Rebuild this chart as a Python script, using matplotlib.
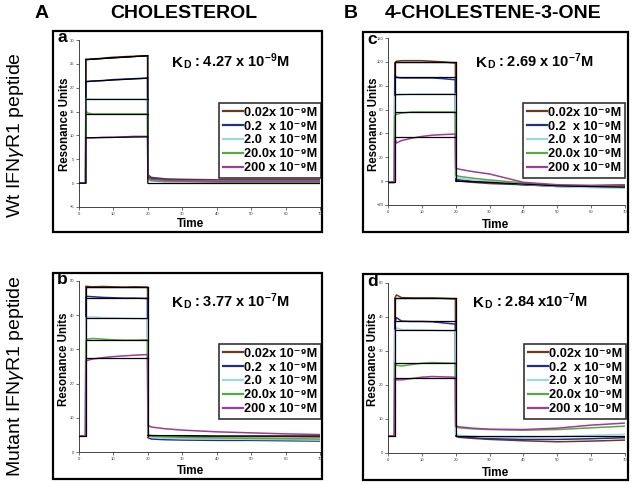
import matplotlib
matplotlib.use("Agg")
import matplotlib.pyplot as plt
from matplotlib.patches import Rectangle
from matplotlib.lines import Line2D

plt.rcParams['font.family'] = ['Liberation Sans', 'DejaVu Sans']
plt.rcParams['mathtext.fontset'] = 'custom'
plt.rcParams['mathtext.rm'] = 'Liberation Sans'
plt.rcParams['mathtext.bf'] = 'Liberation Sans:bold'
plt.rcParams['mathtext.it'] = 'Liberation Sans:italic'
plt.rcParams['mathtext.default'] = 'bf'

W, H = 633, 484

# ---------------- data ----------------
conc_labels = ["0.02x 10\u207b\u2079M", "0.2  x 10\u207b\u2079M", "2.0  x 10\u207b\u2079M",
               "20.0x 10\u207b\u2079M", "200 x 10\u207b\u2079M"]
series_colors = ["#6b3a1e", "#1f2f8a", "#9fd6e6", "#5aa845", "#9c3d96"]

t = [0, 1.9, 2.0, 2.5, 4, 7, 10, 13, 16, 19.9, 20.0, 21, 25, 30, 40, 50, 60, 70]
t_off = [20, 30, 40, 50, 60, 70]

# Panel a : cholesterol, Wt peptide
a_brown = [0, 0, 26.0, 25.9, 26.0, 26.2, 26.4, 26.5, 26.6, 26.7, 1.8, 1.2, 0.9, 0.8, 0.7, 0.7, 0.7, 0.7]
a_blue = [0, 0, 21.2, 21.3, 21.4, 21.5, 21.7, 21.8, 21.9, 22.0, 1.4, 1.0, 0.7, 0.6, 0.5, 0.5, 0.5, 0.5]
a_cyan = [0, 0, 17.8, 17.7, 17.6, 17.6, 17.6, 17.6, 17.6, 17.6, 1.0, 0.6, 0.5, 0.4, 0.4, 0.4, 0.4, 0.4]
a_green = [0, 0, 15.2, 14.7, 14.5, 14.5, 14.5, 14.5, 14.5, 14.5, 0.8, 0.5, 0.3, 0.3, 0.2, 0.2, 0.2, 0.2]
a_purple = [0, 0, 9.6, 9.5, 9.5, 9.6, 9.6, 9.7, 9.8, 9.8, 1.2, 0.8, 0.6, 0.5, 0.4, 0.4, 0.4, 0.4]
a_fit_start = [25.9, 21.3, 17.6, 14.5, 9.5]
a_fit_end = [26.7, 22.0, 17.6, 14.5, 9.7]
a_fit_off = [0, 0, 0, 0, 0, 0]
a_base = 0

# Panel c : 4-cholestene-3-one, Wt peptide
c_brown = [-1, -1, 99, 100.5, 101, 101, 101, 100.5, 100, 99, 0.5, 0, -1, -2, -3, -4, -4, -3.5]
c_blue = [-1, -1, 89, 87, 86.5, 86.5, 86.5, 86.5, 86, 85, 1.5, 1, 0, -1, -3, -4.5, -5, -5]
c_cyan = [-1, -1, 71, 72, 72.5, 73, 73, 73, 73, 73, 3, 2.5, 1, 0, -2.5, -4.5, -5.5, -6]
c_green = [-1, -1, 55, 56, 57, 58, 58, 58, 58, 58, 5, 4, 2.5, 1, -1.5, -3.5, -4.5, -4.5]
c_purple = [-1, -1, 36, 32, 34, 36, 37.5, 38.5, 39, 39.5, 11, 10, 8, 6, -1, -3, -3.5, -3]
c_fit_start = [100, 87, 73, 58, 37]
c_fit_end = [100, 87, 73, 58, 37]
c_fit_off = [0, -1, -2.5, -4, -4.5, -5]
c_base = -1

# Panel b : cholesterol, mutant peptide
b_brown = [4.7, 4.7, 48.5, 48.4, 48.3, 48.4, 48.3, 48.2, 48.3, 48.2, 5, 4.8, 4.7, 4.6, 4.5, 4.5, 4.5, 4.4]
b_blue = [4.7, 4.7, 45.3, 45.5, 45.4, 45.2, 45.1, 45.0, 45.0, 44.9, 4.2, 3.8, 3.6, 3.5, 3.4, 3.4, 3.3, 3.2]
b_cyan = [4.7, 4.7, 39.3, 39.4, 39.5, 39.3, 39.2, 39.1, 39.0, 38.9, 4.6, 4.3, 4.0, 3.9, 3.8, 3.7, 3.6, 3.5]
b_green = [4.7, 4.7, 32.5, 33.0, 33.2, 33.0, 32.8, 32.7, 32.7, 32.8, 5.0, 4.6, 4.4, 4.3, 4.1, 4.0, 3.9, 3.8]
b_purple = [4.7, 4.7, 26.6, 26.8, 27.2, 27.6, 27.9, 28.1, 28.3, 28.5, 7.8, 7.3, 6.8, 6.4, 5.9, 5.6, 5.3, 5.1]
b_fit_start = [48.3, 45.1, 39.2, 32.8, 27.5]
b_fit_end = [48.3, 45.1, 39.2, 32.8, 27.5]
b_fit_off = [4.8, 4.8, 4.7, 4.7, 4.7, 4.7]
b_base = 4.7

# Panel d : 4-cholestene-3-one, mutant peptide
d_brown = [5, 5, 45.5, 46.5, 45.7, 45.6, 45.6, 45.6, 45.5, 45.3, 5, 4.6, 4.3, 4.0, 3.6, 3.3, 3.5, 3.8]
d_blue = [5, 5, 38.5, 39.8, 38.8, 38.7, 38.7, 38.6, 38.3, 37.9, 5.2, 4.8, 4.5, 4.2, 4.0, 4.0, 4.2, 4.5]
d_cyan = [5, 5, 36.0, 36.8, 36.3, 36.2, 36.2, 36.1, 36.0, 35.9, 5.5, 5.2, 4.9, 4.7, 4.6, 4.8, 5.2, 5.5]
d_green = [5, 5, 26.5, 25.8, 25.6, 26.0, 26.4, 26.6, 26.5, 26.4, 7.7, 7.4, 7.1, 6.9, 6.7, 6.9, 7.4, 7.9]
d_purple = [5, 5, 22.0, 21.5, 21.5, 21.9, 22.3, 22.5, 22.4, 22.3, 8.0, 7.7, 7.3, 7.0, 6.9, 7.3, 8.2, 8.8]
d_fit_start = [45.6, 38.7, 36.2, 26.4, 22.2]
d_fit_end = [45.6, 38.7, 36.2, 26.4, 22.2]
d_fit_off = [5, 5, 5, 5, 5, 5]
d_base = 5

kd_values = ["4.27 x 10$^{-9}$M", "3.77 x 10$^{-7}$M", "2.69 x 10$^{-7}$M", "2.84 x10$^{-7}$M"]

x_ticks = [0, 10, 20, 30, 40, 50, 60, 70]
a_yticks = [-5, 0, 5, 10, 15, 20, 25, 30]
c_yticks = [-20, 0, 20, 40, 60, 80, 100, 120]
b_yticks = [0, 10, 20, 30, 40, 50]
d_yticks = [0, 10, 20, 30, 40, 50]

# ---------------- figure ----------------
fig = plt.figure(figsize=(W / 100, H / 100), dpi=100)


def fx(px):
    return px / W


def fy(py):
    return 1 - py / H


def make_axes(x0, x1, y0, y1):
    return fig.add_axes([fx(x0), fy(y1), fx(x1) - fx(x0), (y1 - y0) / H])


panels = [
    dict(ax=(79, 320, 40, 207), box=(53, 322, 31, 232), series=[a_brown, a_blue, a_cyan, a_green, a_purple],
         fs=a_fit_start, fe=a_fit_end, foff=a_fit_off, base=a_base, yt=a_yticks, ylim=(-5, 30),
         letter="a", kd=kd_values[0], kdpos=(172, 67), leg=(321, 103), ylab=(65, 124), time=(190, 224)),
    dict(ax=(79, 320, 281, 452), box=(53, 322, 273, 479), series=[b_brown, b_blue, b_cyan, b_green, b_purple],
         fs=b_fit_start, fe=b_fit_end, foff=b_fit_off, base=b_base, yt=b_yticks, ylim=(0, 50),
         letter="b", kd=kd_values[1], kdpos=(172, 307), leg=(321, 344), ylab=(64, 359), time=(190, 471)),
    dict(ax=(388, 625, 38, 205), box=(363, 628, 32, 232), series=[c_brown, c_blue, c_cyan, c_green, c_purple],
         fs=c_fit_start, fe=c_fit_end, foff=c_fit_off, base=c_base, yt=c_yticks, ylim=(-20, 120),
         letter="c", kd=kd_values[2], kdpos=(476, 67), leg=(625, 103), ylab=(374, 124), time=(495, 225)),
    dict(ax=(388, 625, 283, 453), box=(363, 628, 274, 480), series=[d_brown, d_blue, d_cyan, d_green, d_purple],
         fs=d_fit_start, fe=d_fit_end, foff=d_fit_off, base=d_base, yt=d_yticks, ylim=(0, 50),
         letter="d", kd=kd_values[3], kdpos=(473, 307), leg=(626, 344), ylab=(373, 359), time=(496, 473)),
]

for p in panels:
    x0, x1, y0, y1 = p["ax"]
    ax = make_axes(x0, x1, y0, y1)
    # frame
    bx0, bx1, by0, by1 = p["box"]
    fig.patches.append(Rectangle((fx(bx0), fy(by1)), fx(bx1) - fx(bx0), (by1 - by0) / H,
                                 transform=fig.transFigure, fill=False, lw=1.6, ec="black", zorder=0))
    handles = []
    for s, col, lab in zip(p["series"], series_colors, conc_labels):
        ax.plot(t, s, color=col, lw=1.1, zorder=2)
        handles.append(Line2D([], [], color=col, lw=1.6, label=lab))
    # fitted curves (black)
    ax.plot([t[0], 2, 2, 20, 20], [p["base"], p["base"], p["fs"][0], p["fe"][0], p["foff"][0]],
            color="black", lw=0.9, zorder=3)
    for s0, s1 in zip(p["fs"], p["fe"]):
        ax.plot([2, 20], [s0, s1], color="black", lw=0.9, zorder=3)
    ax.plot(t_off, p["foff"], color="black", lw=0.9, zorder=3)

    ax.set_xlim(0, 70)
    ax.set_ylim(*p["ylim"])
    ax.set_xticks(x_ticks)
    ax.set_yticks(p["yt"])
    ax.tick_params(labelsize=3, length=2, width=0.5, pad=1.5, colors="#333333")
    for side in ("top", "right"):
        ax.spines[side].set_visible(False)
    for side in ("left", "bottom"):
        ax.spines[side].set_linewidth(0.7)
        ax.spines[side].set_color("#444444")
    ax.patch.set_alpha(0)

    leg = ax.legend(handles=handles, loc="upper right", bbox_to_anchor=(fx(p["leg"][0]), fy(p["leg"][1])),
                    bbox_transform=fig.transFigure, frameon=True, fancybox=False, borderaxespad=0,
                    prop=dict(weight="bold", size=9.2), handlelength=1.6, handletextpad=0.05,
                    labelspacing=0.14, borderpad=0.3)
    leg.get_frame().set_edgecolor("black")
    leg.get_frame().set_linewidth(1.2)
    leg.set_zorder(5)

    # panel letter
    fig.text(fx(p["box"][0] + 4), fy(p["box"][2] + 7), p["letter"], fontsize=12.5, fontweight="bold",
             ha="left", va="center")
    # KD text
    kx, ky = p["kdpos"]
    tk = fig.text(fx(kx), fy(ky), "K", fontsize=11, fontweight="bold", ha="left", va="baseline")
    ann_d = fig.add_artist(plt.Annotation("D", xy=(1, 0), xycoords=tk, fontsize=7.5, fontweight="bold",
                                          ha="left", va="bottom"))
    fig.add_artist(plt.Annotation(" : " + p["kd"], xy=(1, 0), xycoords=ann_d, fontsize=10.5,
                                  fontweight="bold", ha="left", va="bottom"))
    # axis labels
    fig.text(fx(p["ylab"][0]), fy(p["ylab"][1]), "Resonance Units", rotation=90, fontsize=8.3,
             fontweight="bold", ha="center", va="center")
    fig.text(fx(p["time"][0]), fy(p["time"][1]), "Time", fontsize=8.5, fontweight="bold",
             ha="center", va="center")

# headers
fig.text(fx(42), fy(13), "A", fontsize=14, fontweight="bold", ha="center", va="center")
fig.text(fx(184), fy(13), "CHOLESTEROL", fontsize=14, fontweight="bold", ha="center", va="center")
fig.text(fx(351), fy(13), "B", fontsize=14, fontweight="bold", ha="center", va="center")
fig.text(fx(493), fy(13), "4-CHOLESTENE-3-ONE", fontsize=14, fontweight="bold", ha="center", va="center")

plt.rcParams['mathtext.default'] = 'regular'
fig.text(fx(16), fy(135), "Wt IFN$\\mathit{\\gamma}$R1 peptide", rotation=90, fontsize=14,
         ha="center", va="center")
fig.text(fx(16), fy(376), "Mutant IFN$\\mathit{\\gamma}$R1 peptide", rotation=90, fontsize=14,
         ha="center", va="center")

fig.savefig("out.png", dpi=100)
